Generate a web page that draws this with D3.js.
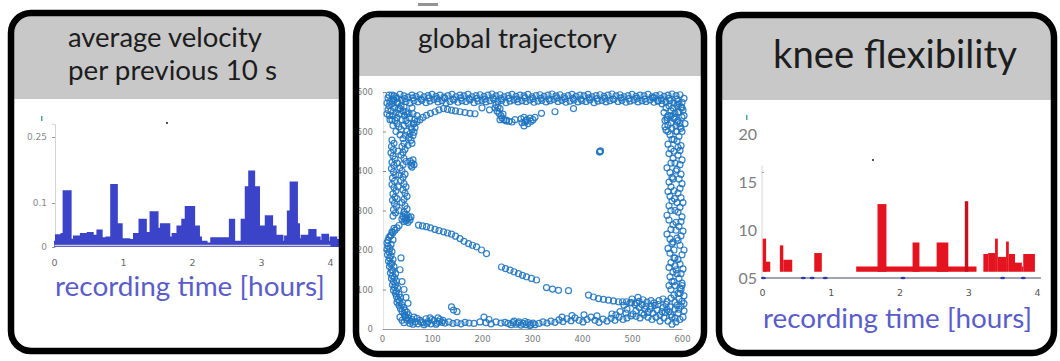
<!DOCTYPE html>
<html>
<head>
<meta charset="utf-8">
<script src="https://cdn.jsdelivr.net/npm/d3@7"></script>
<style>
  html, body { margin: 0; padding: 0; background: #fff; }
  svg { display: block; }
  text { font-family: Lato, "Noto Sans", sans-serif; }
</style>
</head>
<body>
<svg id="fig" width="1060" height="361"></svg>
<script>
// ---------- panel titles ----------
const titleVelocity = ["average velocity", "per previous 10 s"];
const titleTrajectory = "global trajectory";
const titleKnee = "knee flexibility";
const timeLabel = "recording time [hours]";

// ---------- average velocity (hours, value), step series ----------
const velocity = [
  [0.00,0.010],[0.04,0.025],[0.09,0.018],[0.12,0.028],[0.15,0.125],[0.23,0.015],[0.27,0.005],
  [0.30,0.022],[0.35,0.012],[0.40,0.028],[0.46,0.020],[0.50,0.030],[0.55,0.014],[0.60,0.024],
  [0.64,0.036],[0.68,0.018],[0.73,0.008],[0.77,0.020],[0.81,0.004],[0.84,0.139],[0.90,0.012],
  [0.94,0.050],[0.97,0.010],[1.02,0.016],[1.08,0.008],[1.13,0.014],[1.17,0.028],[1.25,0.060],
  [1.32,0.030],[1.41,0.077],[1.49,0.040],[1.56,0.050],[1.66,0.020],[1.73,0.028],[1.80,0.045],
  [1.87,0.060],[1.92,0.089],[2.02,0.045],[2.09,0.020],[2.12,0.010],[2.20,0.006],[2.29,0.018],
  [2.56,0.060],[2.60,0.010],[2.73,0.060],[2.79,0.134],[2.84,0.170],[2.89,0.134],[2.96,0.010],
  [3.01,0.045],[3.08,0.068],[3.15,0.045],[3.20,0.012],[3.25,0.024],[3.30,0.010],[3.36,0.022],
  [3.40,0.079],[3.44,0.145],[3.51,0.050],[3.54,0.016],[3.60,0.024],[3.66,0.010],[3.71,0.037],
  [3.78,0.020],[3.84,0.012],[3.90,0.026],[3.96,0.010],[4.02,0.020],[4.08,0.014],[4.15,0.014]
];
const velYTicks = [0, 0.1, 0.25];
const velYLabels = ["0", "0.1", "0.25"];
const hourTicks = [0, 1, 2, 3, 4];

// ---------- global trajectory (x, y positions) ----------
const trackTop = [
  [20,592],[28,588],[36,594],[44,590],[52,587],[60,592],[68,589],[76,593],[84,588],[92,591],[100,594],[108,589],
  [116,592],[124,587],[132,591],[140,594],[148,588],[156,592],[164,590],[172,594],[180,588],[188,591],[196,593],
  [204,589],[212,592],[220,595],[228,590],[236,593],[244,588],[252,591],[260,594],[268,589],[276,592],[284,590],
  [292,594],[300,588],[308,591],[316,593],[324,589],[332,592],[340,595],[348,590],[356,593],[364,588],[372,591],
  [380,594],[388,589],[396,592],[404,590],[412,594],[420,588],[428,591],[436,593],[444,589],[452,592],[460,595],
  [468,590],[476,593],[484,588],[492,591],[500,594],[508,589],[516,592],[524,590],[532,594],[540,588],[548,591],
  [556,593],[564,589],[572,592],[580,595],[588,591],[596,593],
  [24,578],[32,574],[40,580],[48,576],[56,572],[64,578],[72,575],[80,579],[88,573],[96,577],[104,581],[112,575],
  [120,578],[128,572],[136,576],[144,580],[152,574],[160,578],[168,576],[176,580],[184,573],[192,577],[200,579],
  [208,575],[216,578],[224,581],[232,576],[240,579],[248,573],[256,577],[264,580],[272,575],[280,578],[288,576],
  [296,580],[304,574],[312,577],[320,579],[328,575],[336,578],[344,581],[352,576],[360,579],[368,574],[376,577],
  [384,580],[392,575],[400,578],[408,576],[416,580],[424,573],[432,577],[440,579],[448,575],[456,578],[464,581],
  [472,576],[480,579],[488,574],[496,577],[504,580],[512,575],[520,578],[528,576],[536,580],[544,574],[552,577],
  [560,579],[568,575],[576,578],[584,572],[592,576],
  [30,584],[46,583],[62,585],[78,582],[94,585],[110,583],[126,584],[142,582],[158,585],[174,583],[190,584],
  [206,582],[222,585],[238,583],[254,584],[270,582],[286,585],[302,583],[318,584],[334,582],[350,585],[366,583],
  [382,584],[398,582],[414,585],[430,583],[446,584],[462,582],[478,585],[494,583],[510,584],[526,582],[542,585],
  [558,583],[574,584],[590,582]
];
const trackTopLeft = [
  [12,585],[16,575],[14,565],[20,570],[25,560],[18,552],[28,548],[22,540],[32,556],[38,565],[35,545],[42,552],
  [30,535],[45,540],[40,530],[50,545],[48,528],[55,535],[52,520],[58,512],[44,515],[38,505],[50,500],[56,495],
  [60,505],[47,490],[54,485],[62,490],[58,478],[64,498],[30,520],[26,528],[34,512],[20,530],[15,540],[12,555],
  [10,545],[64,520],[66,530],[70,540],[62,545],
  [14,592],[22,582],[30,572],[36,558],[44,562],[48,550],[54,545],[60,560],[24,590],[16,530],[22,515],[28,500],
  [36,492],[42,482],[10,572],[66,510],[60,470],[52,465],
  [56,425],[60,420],[62,428],[58,414],[64,416],[60,410]
];
const trackLeft = [
  [20,478],[24,470],[19,462],[23,454],[18,446],[22,438],[26,430],[20,422],[24,414],[19,406],[23,398],[27,390],
  [21,382],[25,374],[20,366],[24,358],[28,350],[22,342],[26,334],[21,326],[25,318],[29,310],[23,302],[27,294],[22,286],
  [44,470],[40,462],[46,455],[42,447],[38,440],[44,432],[48,424],[42,416],[36,408],[40,400],[46,392],[42,384],
  [38,376],[44,368],[48,360],[42,352],[46,344],[50,336],[44,328],[40,320],[46,312],[50,304],[44,296],
  [32,450],[30,420],[34,390],[32,360],[30,330],[34,300],
  [42,285],[46,280],[50,288],[54,282],[48,274],[52,270],[56,276],[44,272],[58,284],[40,278],[50,278],[46,290],
  [34,262],[30,256],[26,250],[22,244],[18,238],[14,232],[12,225],[10,218],[12,210],[10,202],[14,195],[11,188],
  [15,180],[13,172],[17,165],[15,158],[19,150],[17,142],[21,135],[19,128],[23,120],[21,112],[25,105],[23,98],
  [27,90],[29,82],[32,75],[30,68],[34,60],[37,52],[40,45],[44,38],[47,32],
  [24,255],[20,246],[17,236],[22,226],[18,214],[16,204],[20,196],[18,185],[22,176],[20,166],[24,158],[22,148],
  [27,140],[25,130],[29,122],[27,112],[31,104],[29,95],[34,88],[37,80],[35,70],[39,62],[43,55],[46,48],[50,42],[53,36],
  [36,150],[40,120],[44,100],[48,80],[52,65],[38,180]
];
const trackBottom = [
  [44,16],[50,22],[56,14],[60,24],[66,18],[72,13],[76,22],[82,16],[88,26],[92,19],[98,13],[104,21],[110,15],
  [116,24],[120,17],[48,28],[62,12],[70,27],[84,11],[96,28],[108,12],[114,19],
  [46,34],[52,28],[58,20],[64,30],[78,18],[90,14],[100,24],[112,28],[122,22],[40,22],[36,30],
  [126,15],[134,18],[142,14],[150,16],[158,13],[166,17],[174,15],[184,14],[196,18],[208,16],[218,13],[228,18],
  [238,15],[246,17],[214,24],[204,30],[143,48],[139,56],[150,44],
  [252,14],[258,11],[262,16],[268,12],[272,15],[278,10],[282,14],[288,11],[292,16],[298,12],[302,15],[306,11],
  [264,20],[286,19],[296,9],[274,18],
  [314,14],[322,18],[330,15],[338,20],[346,17],[354,23],[362,19],[370,26],[378,21],[386,28],[394,22],[402,18],
  [410,24],[418,30],[426,22],[434,17],[442,25],[450,20],[458,27],[466,22],[474,30],[482,24],[490,28],[498,33],
  [360,30],[380,34],[404,36],[430,33],[460,38],[488,40]
];
const trackBottomRight = [
  [502,38],[508,46],[514,55],[520,62],[526,50],[532,42],[538,58],[544,66],[550,48],[556,36],[562,54],[568,62],
  [574,44],[580,30],[586,50],[592,40],[598,58],[604,46],[596,24],[588,18],[580,12],[572,20],[564,28],[556,20],
  [548,30],[540,24],[532,30],[524,36],[516,28],[508,32],[600,70],[604,84],[594,76],[586,68],[578,78],[570,70],
  [562,76],[554,72],[546,60],[538,72],[530,68],[522,74],[514,70],[506,62],[592,90],[598,100],[584,86],[590,60],
  [576,56],[566,42],[512,80],[500,76],[496,66],
  [520,40],[528,58],[536,50],[542,40],[552,62],[560,44],[570,50],[578,36],[586,28],[594,50],[602,30],[604,64],
  [490,50],[484,60],[476,44],[468,36],[600,110],[596,90]
];
const trackRight = [
  [578,100],[574,110],[580,120],[576,132],[582,144],[574,156],[578,168],[584,180],[576,192],[572,204],[580,216],
  [576,228],[570,240],[578,252],[582,264],[574,276],[570,288],[578,300],[574,312],[580,324],[576,336],[572,348],
  [578,360],[574,372],[580,384],[576,396],[570,408],[578,420],[582,432],[574,444],[578,456],[572,468],[580,480],
  [576,492],[568,504],[572,516],[566,528],[572,540],[578,552],[568,560],
  [596,104],[600,116],[594,128],[598,140],[602,152],[596,164],[592,176],[600,188],[604,200],[596,212],[592,224],
  [598,236],[602,248],[594,260],[598,272],[600,284],[592,296],[596,308],[602,320],[598,332],[592,344],[596,356],
  [600,368],[594,380],[598,392],[590,404],[596,416],[600,428],[592,440],[596,452],[598,464],[590,476],[594,488],
  [600,500],[596,512],[590,524],[586,536],[592,548],
  [586,110],[588,150],[584,200],[588,250],[586,300],[584,350],[588,400],[584,450],[588,500],[586,160],[590,230],[585,330],
  [584,120],[590,140],[586,180],[582,220],[588,270],[590,320],[582,380],[586,420],[592,460],[584,480],
  [574,565],[582,560],[590,566],[598,562],[602,554],[594,550],[586,546],[578,540],[570,536],[584,532],[592,528],
  [600,536],[596,520],[588,514],[580,508],[572,500],[590,500],[598,508],[578,522],[566,512],[600,574],[604,584],
  [560,570],[552,578],[544,586],[600,560],[594,570],[604,540],[606,520],[570,530],[564,548]
];
const trackInner = [
  [228,568],[232,562],[236,558],[230,552],[234,546],[238,540],[240,534],[236,530],[226,560],[242,544],[244,530],
  [248,527],[254,526],[260,524],
  [278,532],[284,536],[290,530],[296,534],[302,530],[306,536],[286,524],[292,520],[284,514],[280,522],[298,526],[288,528],
  [436,449],[437,451],[435,448],
  [63,520],[70,525],[76,530],[82,536],[89,541],[97,546],[106,550],[114,555],[123,558],[131,556],[139,554],[147,552],
  [156,550],[166,548],[176,546],[186,545],[249,529],[266,530],[319,546],[346,550],[383,558],[200,560],[215,555],
  [73,263],[81,261],[89,259],[97,256],[106,252],[114,249],[123,246],[131,243],[139,240],[147,235],[156,229],
  [164,222],[173,216],[181,212],[189,208],[199,200],[209,191],[239,157],[247,153],[256,149],[264,145],[273,140],
  [281,136],[289,132],[299,128],[309,124],[329,105],[341,101],[353,98],[373,97],[413,86],[423,81],[433,77],
  [443,75],[453,73],[463,71],[473,69],[481,69],[489,69],[499,67],[509,66]
];
const trackTicks = [0, 100, 200, 300, 400, 500, 600];

// ---------- knee flexibility: [start hour, end hour, value] ----------
const kneeFloor = 5.65;
const kneeSegments = [
  [0.01,0.06,9.1],[0.03,0.12,6.7],
  [0.26,0.31,8.4],[0.31,0.44,6.9],
  [0.76,0.87,7.6],
  [1.37,3.12,6.2],
  [1.68,1.81,12.7],[2.19,2.29,8.7],[2.54,2.71,8.7],
  [3.22,3.29,7.5],[3.29,3.39,7.6],[3.39,3.43,9.1],[3.43,3.55,7.2],[3.55,3.59,8.8],
  [3.59,3.68,7.5],[3.68,3.78,6.6],[3.78,3.80,6.2],[3.80,3.97,7.5]
];
const kneeSpikes = [[2.95, 3.00, 13.0]];
const kneeMarks = [0.02, 0.60, 0.73, 0.92, 2.05, 3.50, 3.80];
const kneeYTicks = [5, 10, 15, 20];
const kneeYLabels = ["05", "10", "15", "20"];

// ---------- layout ----------
const svg = d3.select("#fig");
const defs = svg.append("defs");

const panels = [
  { id: "pv", x: 11,  y: 13, w: 331, h: 338, r: 20, header: 99 },
  { id: "pt", x: 356, y: 14, w: 348, h: 340, r: 22, header: 76 },
  { id: "pk", x: 719, y: 15, w: 335, h: 338, r: 22, header: 100 }
];

const bodies = {};
panels.forEach(p => {
  defs.append("clipPath").attr("id", "clip-" + p.id)
    .append("rect").attr("x", p.x).attr("y", p.y).attr("width", p.w).attr("height", p.h)
    .attr("rx", p.r).attr("ry", p.r);
  const g = svg.append("g").attr("clip-path", `url(#clip-${p.id})`);
  g.append("rect").attr("x", p.x).attr("y", p.y).attr("width", p.w).attr("height", p.h).attr("fill", "#fff");
  g.append("rect").attr("x", p.x).attr("y", p.y).attr("width", p.w).attr("height", p.header - p.y)
    .attr("fill", "#c8c8c8");
  bodies[p.id] = g;
});

function fitText(sel, width) {
  sel.style("font-size", "20px");
  const w = sel.node().getComputedTextLength();
  sel.style("font-size", (20 * width / w).toFixed(2) + "px");
  return sel;
}

const titleColor = "#1d1d1d";
const labelBlue = "#5a5dc9";
const hourFormat = d3.format("d");

// ---------- panel 1: average velocity ----------
{
  const g = bodies.pv;
  fitText(g.append("text").attr("x", 68).attr("y", 47).attr("fill", titleColor).text(titleVelocity[0]), 194);
  fitText(g.append("text").attr("x", 68).attr("y", 80).attr("fill", titleColor).text(titleVelocity[1]), 209);

  const x = d3.scaleLinear().domain([0, 4]).range([54, 330]);
  const y = d3.scaleLinear().domain([0, 0.28]).range([247, 123.8]);

  const area = d3.area().curve(d3.curveStepAfter)
    .x(d => x(d[0])).y0(y(0)).y1(d => y(d[1]));
  const line = d3.line().curve(d3.curveStepAfter)
    .x(d => x(d[0])).y(d => y(d[1]));

  const ya = g.append("g").attr("transform", `translate(${x(0) + 1},0)`)
    .call(d3.axisLeft(y).tickValues(velYTicks).tickFormat((d, i) => velYLabels[i])
      .tickSize(3).tickPadding(5));
  ya.select(".domain").attr("stroke", "#d4d4d4");
  ya.selectAll(".tick line").attr("stroke", "#999");
  ya.selectAll(".tick text").attr("fill", "#8a8a8a").style("font-size", "9px").style("font-family", "DejaVu Sans");

  g.append("path").datum(velocity).attr("d", area).attr("fill", "#3b44c9");
  g.append("path").datum(velocity).attr("d", line).attr("fill", "none")
    .attr("stroke", "#3b44c9").attr("stroke-width", 3.5).attr("stroke-linejoin", "miter");

  const xa = g.append("g").attr("transform", `translate(0,${y(0)})`)
    .call(d3.axisBottom(x).tickValues(hourTicks).tickFormat(hourFormat).tickSize(0).tickPadding(12));
  xa.select(".domain").attr("stroke", "#c9cad6").attr("stroke-width", 1.5)
    .attr("transform", "translate(0,-2)");
  xa.selectAll(".tick text").attr("fill", "#6a6a6a").style("font-size", "9.5px").style("font-family", "DejaVu Sans");

  g.append("rect").attr("x", 41).attr("y", 116).attr("width", 1.5).attr("height", 5).attr("fill", "#4aa5a0");
  g.append("rect").attr("x", 166).attr("y", 122).attr("width", 2).attr("height", 2).attr("fill", "#555");

  fitText(g.append("text").attr("x", 55).attr("y", 296).attr("fill", labelBlue).text(timeLabel), 270);
}

// ---------- panel 2: global trajectory ----------
{
  const g = bodies.pt;
  fitText(g.append("text").attr("x", 418).attr("y", 48).attr("fill", titleColor).text(titleTrajectory), 199);

  const x = d3.scaleLinear().domain([0, 600]).range([382, 682]);
  const y = d3.scaleLinear().domain([0, 600]).range([329, 92]);

  const ya = g.append("g").attr("transform", `translate(${x(0) + 1},0)`)
    .call(d3.axisLeft(y).tickValues(trackTicks).tickSize(-3).tickPadding(10));
  ya.select(".domain").attr("stroke", "#e4e4e4");
  ya.selectAll(".tick line").attr("stroke", "#888");
  ya.selectAll(".tick text").attr("fill", "#7a7a7a").style("font-size", "8.5px").style("font-family", "DejaVu Sans");

  const xa = g.append("g").attr("transform", `translate(0,${y(0)})`)
    .call(d3.axisBottom(x).tickValues(trackTicks).tickSize(0).tickPadding(7));
  xa.select(".domain").attr("stroke", "#9a9a9a").attr("stroke-width", 1.2);
  xa.selectAll(".tick text").attr("fill", "#7a7a7a").style("font-size", "8.5px").style("font-family", "DejaVu Sans");

  const pts = [].concat(trackTop, trackTopLeft, trackLeft, trackBottom, trackBottomRight, trackRight, trackInner);
  g.append("g").selectAll("circle").data(pts).join("circle")
    .attr("cx", d => x(d[0])).attr("cy", d => y(d[1])).attr("r", 3)
    .attr("fill", "none").attr("stroke", "#1f74c0").attr("stroke-width", 1.2).attr("stroke-opacity", 0.9);
}
svg.append("rect").attr("x", 418).attr("y", 3).attr("width", 20).attr("height", 3).attr("fill", "#666").attr("opacity", 0.7);

// ---------- panel 3: knee flexibility ----------
{
  const g = bodies.pk;
  fitText(g.append("text").attr("x", 773).attr("y", 68).attr("fill", titleColor).text(titleKnee), 244);

  const x = d3.scaleLinear().domain([0, 4]).range([762, 1037]);
  const y = d3.scaleLinear().domain([5, 20]).range([278, 134]);

  g.append("line").attr("x1", x(0)).attr("x2", x(0)).attr("y1", y(16.7)).attr("y2", y(5))
    .attr("stroke", "#d6d6d6");
  g.append("line").attr("x1", x(0)).attr("x2", x(0) + 2).attr("y1", y(16)).attr("y2", y(16))
    .attr("stroke", "#999");

  const ya = g.append("g").attr("transform", `translate(${x(0) - 5},0)`)
    .call(d3.axisLeft(y).tickValues(kneeYTicks).tickFormat((d, i) => kneeYLabels[i]).tickSize(0).tickPadding(0));
  ya.select(".domain").remove();
  ya.selectAll(".tick text").attr("fill", "#7d7d7d").style("font-size", "16px");

  g.append("g").selectAll("rect").data(kneeSegments).join("rect")
    .attr("x", d => x(d[0])).attr("width", d => x(d[1]) - x(d[0]))
    .attr("y", d => y(d[2])).attr("height", d => y(kneeFloor) - y(d[2]))
    .attr("fill", "#e3141f");
  g.append("g").selectAll("rect").data(kneeSpikes).join("rect")
    .attr("x", d => x(d[0])).attr("width", d => x(d[1]) - x(d[0]))
    .attr("y", d => y(d[2])).attr("height", d => y(kneeFloor) - y(d[2]))
    .attr("fill", "#c8101c");

  const xa = g.append("g").attr("transform", `translate(0,${y(5)})`)
    .call(d3.axisBottom(x).tickValues(hourTicks).tickFormat(hourFormat).tickSize(0).tickPadding(11));
  xa.select(".domain").attr("stroke", "#a3a4b3").attr("stroke-width", 2)
    .attr("d", `M${x(0)},0H${x(4) + 4}`);
  xa.selectAll(".tick text").attr("fill", "#555").style("font-size", "9.5px").style("font-family", "DejaVu Sans");

  g.append("g").selectAll("ellipse").data(kneeMarks).join("ellipse")
    .attr("cx", d => x(d)).attr("cy", y(5)).attr("rx", 2.5).attr("ry", 1.2).attr("fill", "#2a3aa8");

  g.append("rect").attr("x", 746).attr("y", 115).attr("width", 1.5).attr("height", 5).attr("fill", "#4aa5a0");
  g.append("rect").attr("x", 872).attr("y", 159).attr("width", 2).attr("height", 2).attr("fill", "#555");

  fitText(g.append("text").attr("x", 763).attr("y", 328).attr("fill", labelBlue).text(timeLabel), 269);
}

// ---------- panel frames ----------
panels.forEach(p => {
  svg.append("rect").attr("x", p.x).attr("y", p.y).attr("width", p.w).attr("height", p.h)
    .attr("rx", p.r).attr("ry", p.r)
    .attr("fill", "none").attr("stroke", "#000").attr("stroke-width", 6.5);
});
</script>
</body>
</html>
